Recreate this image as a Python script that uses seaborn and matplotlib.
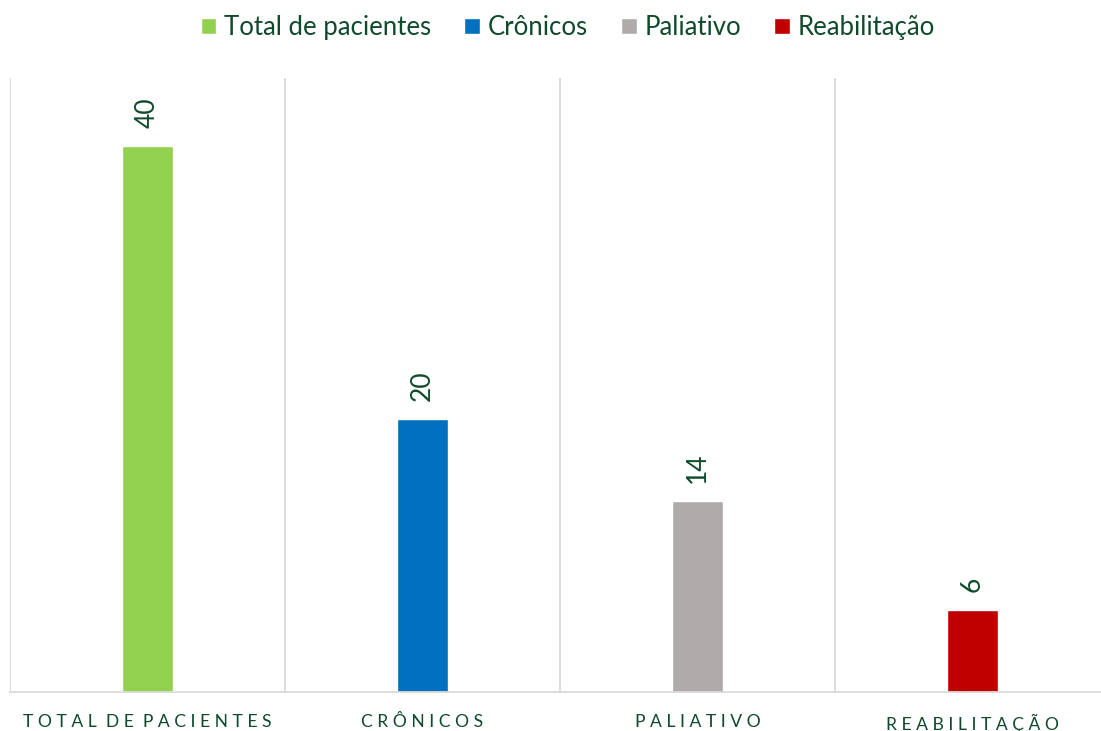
import pandas as pd
import seaborn as sns
import matplotlib.pyplot as plt

sns.set_theme(style="white")
plt.rcParams['font.family'] = ['Lato', 'DejaVu Sans']

# data
categories = ["Total de pacientes", "Crônicos", "Paliativo", "Reabilitação"]
tick_labels = ["TOTAL DE PACIENTES", "CRÔNICOS", "PALIATIVO", "REABILITAÇÃO"]
values = [40, 20, 14, 6]
colors = ["#92D050", "#0070C0", "#AFABAB", "#C00000"]

text_color = "#0F4A2A"

df = pd.DataFrame({"cat": categories, "n": values})

fig = plt.figure(figsize=(11.01, 7.31), dpi=100)
ax = fig.add_axes([10 / 1101, 39 / 731, 1100 / 1101, 614 / 731])

sns.barplot(data=df, x="cat", y="n", hue="cat", palette=colors,
            width=0.185, saturation=1, ax=ax, legend=True)

for c in ax.containers:
    ax.bar_label(c, rotation=90, padding=13, fontsize=19, color=text_color)

# letter-spaced tick labels
def spaced(s):
    return "  ".join(" ".join(w) for w in s.split(" "))

ax.set_xticks(range(len(categories)))
ax.set_xticklabels([spaced(t) for t in tick_labels], fontsize=12.6, color=text_color)
ax.tick_params(axis="x", length=0, pad=16)
ax.set_xlim(-0.5, len(categories) - 0.5)
ax.set_ylim(0, 45)
ax.set_yticks([])
ax.set_xlabel("")
ax.set_ylabel("")

# vertical separators between categories
ax.set_xticks([i - 0.5 for i in range(len(categories) + 1)], minor=True)
ax.grid(axis="x", which="minor", color="#D9D9D9", linewidth=1.3)
ax.grid(axis="x", which="major", visible=False)
ax.set_axisbelow(True)

for s in ["top", "right", "left"]:
    ax.spines[s].set_visible(False)
ax.spines["bottom"].set_color("#D9D9D9")
ax.spines["bottom"].set_linewidth(1.3)

sns.move_legend(ax, "upper center", bbox_to_anchor=(0.507, 1.14), ncol=4,
                frameon=False, title=None, fontsize=18.5, handlelength=0.6,
                handleheight=0.6, handletextpad=0.3, columnspacing=1.3)
for t in ax.get_legend().get_texts():
    t.set_color(text_color)

fig.savefig("out.png", dpi=100)
